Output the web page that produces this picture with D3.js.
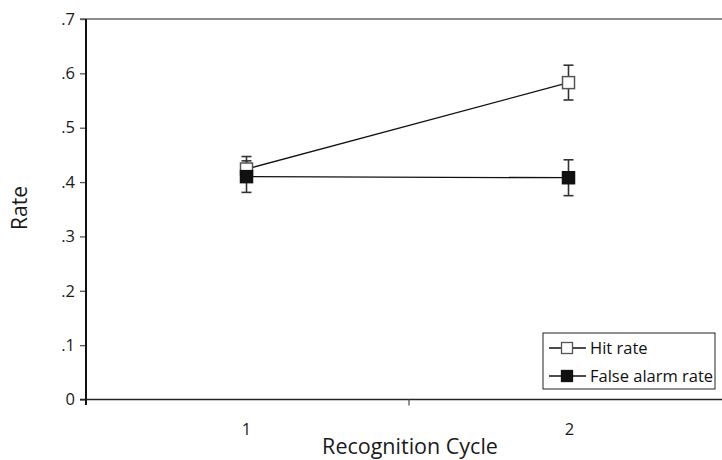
<!DOCTYPE html>
<html>
<head>
<meta charset="utf-8">
<script src="https://cdn.jsdelivr.net/npm/d3@7"></script>
<style>
  body { margin: 0; background: white; }
  svg { display: block; }
</style>
</head>
<body>
<div id="container"></div>
<script>
// data
let cycles = ['1', '2'];
let hitRate = [0.424, 0.583];
let hitErr = [0.023, 0.032];
let faRate = [0.410, 0.408];
let faErr = [0.029, 0.033];
let yTicks = [0, 0.1, 0.2, 0.3, 0.4, 0.5, 0.6, 0.7];
let seriesNames = ['Hit rate', 'False alarm rate'];

let w = 722,
    h = 460;

let viz = d3.select('#container')
    .append('svg')
      .attr('width', w)
      .attr('height', h)
      .style('background', 'white')
      .attr('font-family', 'Open Sans, sans-serif');

let x = d3.scaleBand().domain(cycles).range([86, 732]);
let y = d3.scaleLinear().domain([0, 0.7]).range([399.5, 19]);

function fmt(d) {
    return d === 0 ? '0' : d3.format('.1f')(d).replace(/^0/, '');
}

// top border
viz.append('line')
    .attr('x1', 80).attr('x2', w)
    .attr('y1', y(0.7)).attr('y2', y(0.7))
    .style('stroke', '#666').style('stroke-width', 1.5);

// y axis
let yAxis = viz.append('g')
    .attr('transform', 'translate(86,0)')
    .call(d3.axisLeft(y).tickValues(yTicks).tickSize(6).tickFormat(fmt));
yAxis.select('.domain').remove();
yAxis.selectAll('.tick line').style('stroke', '#555').style('stroke-width', 1.3);
yAxis.selectAll('.tick text')
    .attr('font-size', 16.5)
    .attr('fill', '#1a1a1a')
    .attr('font-family', 'Open Sans, sans-serif')
    .attr('x', -11);

viz.append('line')
    .attr('x1', 86).attr('x2', 86)
    .attr('y1', y(0.7)).attr('y2', 405)
    .style('stroke', '#111').style('stroke-width', 2);

// x axis
viz.append('line')
    .attr('x1', 80).attr('x2', w)
    .attr('y1', y(0)).attr('y2', y(0))
    .style('stroke', '#222').style('stroke-width', 1.6);

viz.selectAll('.xtick')
    .data(cycles.slice(1))
    .enter().append('line')
      .attr('class', 'xtick')
      .attr('x1', d => x(d)).attr('x2', d => x(d))
      .attr('y1', y(0)).attr('y2', y(0) + 6)
      .style('stroke', '#555').style('stroke-width', 1.3);

viz.selectAll('.xlabel')
    .data(cycles)
    .enter().append('text')
      .attr('class', 'xlabel')
      .attr('x', d => x(d) + x.bandwidth() / 2 - 1)
      .attr('y', 435)
      .attr('text-anchor', 'middle')
      .attr('font-size', 16.5)
      .attr('fill', '#1a1a1a')
      .text(d => d);

viz.append('text')
    .attr('x', 410)
    .attr('y', 454)
    .attr('text-anchor', 'middle')
    .attr('font-size', 21.5)
    .attr('fill', '#1a1a1a')
    .text('Recognition Cycle');

viz.append('text')
    .attr('transform', 'translate(27,208) rotate(-90)')
    .attr('text-anchor', 'middle')
    .attr('font-size', 21)
    .attr('fill', '#1a1a1a')
    .text('Rate');

let cx = d => x(d) + x.bandwidth() / 2;

let series = [
    { name: seriesNames[0], vals: hitRate, err: hitErr, fill: 'white' },
    { name: seriesNames[1], vals: faRate, err: faErr, fill: '#111' }
];

let px = i => cx(cycles[i]) + (i === 0 ? -1 : -2);

let line = d3.line()
    .x((d, i) => px(i))
    .y(d => y(d));

// lines
series.forEach(s => {
    viz.append('path')
        .datum(s.vals)
        .attr('d', line)
        .style('fill', 'none')
        .style('stroke', '#111')
        .style('stroke-width', 1.3);
});

// error bars
series.forEach(s => {
    let g = viz.append('g')
        .style('stroke', '#333')
        .style('stroke-width', 1.6);
    cycles.forEach((c, i) => {
        let top = y(s.vals[i] + s.err[i]),
            bot = y(s.vals[i] - s.err[i]);
        g.append('line').attr('x1', px(i)).attr('x2', px(i)).attr('y1', top).attr('y2', bot);
        g.append('line').attr('x1', px(i) - 5).attr('x2', px(i) + 5).attr('y1', top).attr('y2', top);
        g.append('line').attr('x1', px(i) - 5).attr('x2', px(i) + 5).attr('y1', bot).attr('y2', bot);
    });
});

// markers
series.forEach(s => {
    viz.selectAll(null)
        .data(s.vals)
        .enter().append('rect')
          .attr('x', (d, i) => px(i) - 6)
          .attr('y', d => y(d) - 6)
          .attr('width', 12)
          .attr('height', 12)
          .style('fill', s.fill)
          .style('stroke', s.fill === 'white' ? '#555' : '#111')
          .style('stroke-width', 1.5);
});

// legend
let legend = viz.append('g').attr('transform', 'translate(543,333)');
legend.append('rect')
    .attr('x', 0).attr('y', 0)
    .attr('width', 172).attr('height', 56)
    .style('fill', 'white')
    .style('stroke', '#222')
    .style('stroke-width', 1);

series.forEach((s, i) => {
    let ly = 15 + i * 28;
    legend.append('line')
        .attr('x1', 6).attr('x2', 43)
        .attr('y1', ly).attr('y2', ly)
        .style('stroke', '#111').style('stroke-width', 1.3);
    legend.append('rect')
        .attr('x', 24 - 5.5).attr('y', ly - 5.5)
        .attr('width', 11).attr('height', 11)
        .style('fill', s.fill)
        .style('stroke', s.fill === 'white' ? '#555' : '#111')
        .style('stroke-width', 1.3);
    legend.append('text')
        .attr('x', 47)
        .attr('y', ly + 6)
        .attr('font-size', 16.5)
        .attr('fill', '#111')
        .text(s.name);
});
</script>
</body>
</html>
